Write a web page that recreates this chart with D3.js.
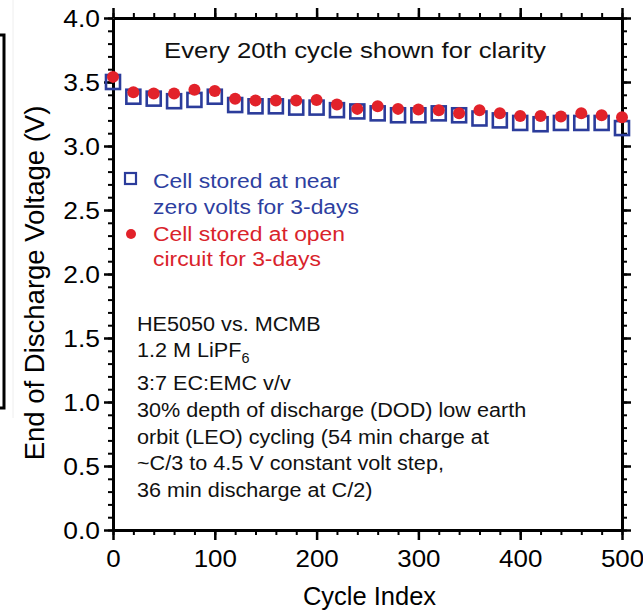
<!DOCTYPE html>
<html>
<head>
<meta charset="utf-8">
<script src="https://cdn.jsdelivr.net/npm/d3@7"></script>
<style>
  html, body { margin: 0; padding: 0; background: #fff; }
  svg { display: block; }
  text { font-family: "Liberation Sans", Arial, Helvetica, sans-serif; }
</style>
</head>
<body>
<svg id="chart" width="643" height="610"></svg>
<script>
// ---- data ----
const cycles = [0,20,40,60,80,100,120,140,160,180,200,220,240,260,280,300,320,340,360,380,400,420,440,460,480,500];
const nearZero = [3.50,3.385,3.37,3.35,3.36,3.385,3.32,3.31,3.31,3.30,3.30,3.28,3.27,3.255,3.24,3.24,3.255,3.24,3.215,3.20,3.18,3.17,3.18,3.18,3.18,3.14];
const openCircuit = [3.54,3.42,3.41,3.41,3.44,3.43,3.37,3.355,3.355,3.355,3.36,3.325,3.29,3.31,3.29,3.285,3.28,3.255,3.28,3.255,3.235,3.235,3.23,3.255,3.24,3.225];
const xTicks = [0,100,200,300,400,500];
const yTicks = [0.0,0.5,1.0,1.5,2.0,2.5,3.0,3.5,4.0];
const legendLabels = [["Cell stored at near","zero volts for 3-days"],["Cell stored at open","circuit for 3-days"]];
const noteLines = ["HE5050 vs. MCMB","1.2 M LiPF","3:7 EC:EMC v/v","30% depth of discharge (DOD) low earth","orbit (LEO) cycling (54 min charge at","~C/3 to 4.5 V constant volt step,","36 min discharge at C/2)"];
const topNote = "Every 20th cycle shown for clarity";
const xTitle = "Cycle Index";
const yTitle = "End of Discharge Voltage (V)";

// ---- layout ----
const L = 113, R = 622, T = 18, B = 530;
const blue = "#2b3c9b", red = "#e2222a";
const svg = d3.select("#chart");

const x = d3.scaleLinear().domain([0,500]).range([L,R]);
const y = d3.scaleLinear().domain([0,4]).range([B,T]);

// text helper with slight horizontal stretch (reference glyphs are wide)
function stext(px, py, str, size, sx, anchor, fill) {
  return svg.append("text")
    .attr("transform", `translate(${px},${py}) scale(${sx},1)`)
    .attr("text-anchor", anchor || "start")
    .attr("font-size", size)
    .attr("fill", fill || "#111")
    .text(str);
}

// cropped neighbouring frame on the left edge
svg.append("line").attr("x1",13).attr("x2",13).attr("y1",0).attr("y2",418).attr("stroke","#eeeeee").attr("stroke-width",1);
svg.append("path").attr("d","M0,35H4V408H0").attr("fill","none").attr("stroke","#000").attr("stroke-width",3);

// axes
function axisGroup(axisFn, scale, tickVals, minorVals, tr, major, minor) {
  const gMin = svg.append("g").attr("transform",tr)
    .call(axisFn(scale).tickValues(minorVals).tickSize(minor).tickFormat(""));
  gMin.select(".domain").remove();
  gMin.selectAll("line").attr("stroke-width",2);
  const g = svg.append("g").attr("transform",tr)
    .call(axisFn(scale).tickValues(tickVals).tickSize(major).tickSizeOuter(0));
  g.select(".domain").attr("stroke-width",3);
  g.selectAll(".tick line").attr("stroke-width",2.5);
  return g;
}
const xMinor = d3.range(0,501,20);
const yMinor = d3.range(0,41,1).map(d=>d/10);

const gx = axisGroup(d3.axisBottom, x, xTicks, xMinor, `translate(0,${B})`, 10, 5);
gx.selectAll(".tick text").each(function(d){
  d3.select(this).attr("y",0).attr("dy",0)
    .attr("transform","translate(0,37) scale(1.08,1)")
    .attr("font-size",24).attr("fill","#000");
});
const gxt = axisGroup(d3.axisTop, x, xTicks, xMinor, `translate(0,${T})`, 10, 5);
gxt.selectAll("text").remove();
const gy = axisGroup(d3.axisLeft, y, yTicks, yMinor, `translate(${L},0)`, 9, 5);
gy.selectAll(".tick text").each(function(d){
  d3.select(this).attr("x",0).attr("dy","0.35em")
    .attr("transform","translate(-13,0) scale(1.1,1)")
    .attr("font-size",24).attr("fill","#000")
    .text(d3.format(".1f")(d));
});
const gyr = axisGroup(d3.axisRight, y, yTicks, yMinor, `translate(${R},0)`, 9, 5);
gyr.selectAll("text").remove();
svg.selectAll("g").attr("font-family", null);

// axis titles
svg.append("text").attr("x",(L+R)/2+2).attr("y",605).attr("text-anchor","middle").attr("font-size",25.5).text(xTitle);
svg.append("text").attr("transform",`translate(44,${(T+B)/2+9}) rotate(-90)`).attr("text-anchor","middle").attr("font-size",27.5).text(yTitle);

// data
svg.append("g").selectAll("rect").data(cycles).join("rect")
  .attr("x",(d)=>x(d)-7).attr("y",(d,i)=>y(nearZero[i])-7)
  .attr("width",14).attr("height",14)
  .attr("fill","none").attr("stroke",blue).attr("stroke-width",2.6);
svg.append("g").selectAll("circle").data(cycles).join("circle")
  .attr("cx",(d)=>x(d)).attr("cy",(d,i)=>y(openCircuit[i]))
  .attr("r",6).attr("fill",red);

// top note
stext(355, 58, topNote, 22, 1.17, "middle");

// legend
svg.append("rect").attr("x",125).attr("y",173).attr("width",11).attr("height",11)
  .attr("fill","none").attr("stroke",blue).attr("stroke-width",2.2);
svg.append("circle").attr("cx",131).attr("cy",234).attr("r",5).attr("fill",red);
const legY = [[188,214],[241,266]];
legendLabels.forEach((lines,k)=>{
  lines.forEach((t,j)=>{
    stext(153, legY[k][j], t, 21, 1.09, "start", k===0 ? "#2e3fa0" : "#d9232b");
  });
});

// annotation
const noteY = [331,357,390,417,443.5,470,496.5];
noteLines.forEach((t,i)=>{
  const tx = stext(137, noteY[i], t, 21, 1.03, "start", "#111");
  if (i===1) tx.append("tspan").attr("font-size",14).attr("dy",6).text("6");
});
</script>
</body>
</html>
